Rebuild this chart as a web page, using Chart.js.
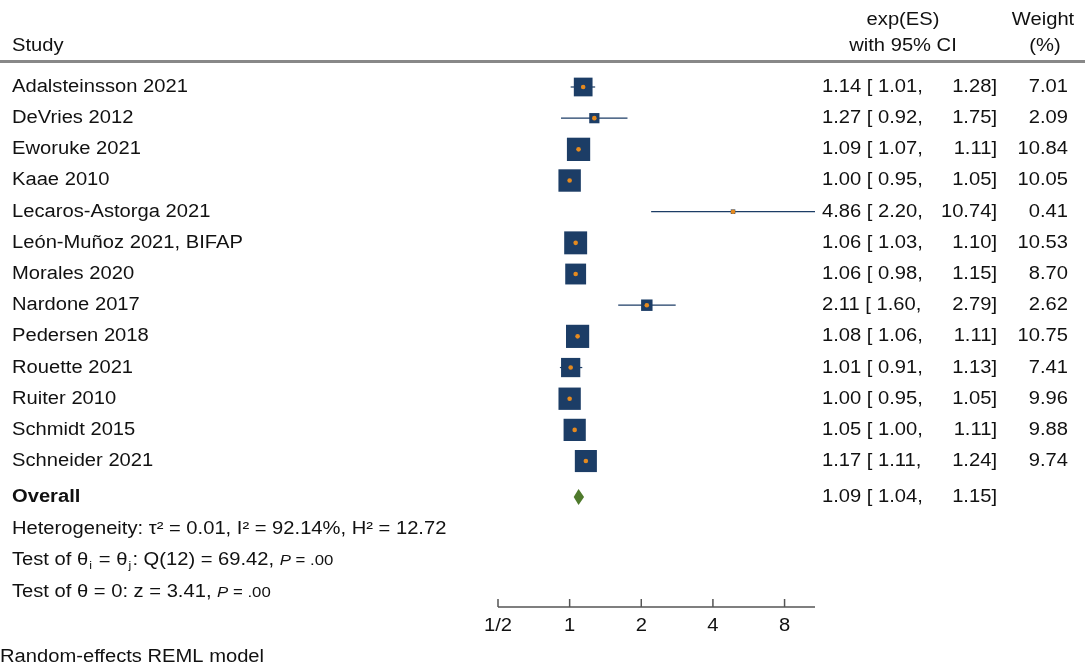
<!DOCTYPE html>
<html><head><meta charset="utf-8">
<script src="https://cdn.jsdelivr.net/npm/chart.js@4"></script>
<style>html,body{margin:0;padding:0;background:#fff}#c{display:block}</style>
</head><body>
<canvas id="c" width="1085" height="667" style="width:1085px;height:667px"></canvas>
<script>
const studies=["Adalsteinsson 2021","DeVries 2012","Eworuke 2021","Kaae 2010","Lecaros-Astorga 2021","León-Muñoz 2021, BIFAP","Morales 2020","Nardone 2017","Pedersen 2018","Rouette 2021","Ruiter 2010","Schmidt 2015","Schneider 2021"];
const es=[1.14,1.27,1.09,1.00,4.86,1.06,1.06,2.11,1.08,1.01,1.00,1.05,1.17];
const lo=[1.01,0.92,1.07,0.95,2.20,1.03,0.98,1.60,1.06,0.91,0.95,1.00,1.11];
const hi=[1.28,1.75,1.11,1.05,10.74,1.10,1.15,2.79,1.11,1.13,1.05,1.11,1.24];
const weight=[7.01,2.09,10.84,10.05,0.41,10.53,8.70,2.62,10.75,7.41,9.96,9.88,9.74];
const overall={es:1.09,lo:1.04,hi:1.15};
const xTicks=[0.5,1,2,4,8];
const xTickLabels=["1/2","1","2","4","8"];
const OVERALL_ROW=13.15;
const NAVY="#1c3d66", ORANGE="#e58a1f", GREEN="#4f7a2c";
const F="'Liberation Sans', Arial, sans-serif";
const SX=1.12;
const BASE="18px "+F;

function txt(ctx,s,x,y,align,font){
  ctx.save();ctx.font=font||BASE;ctx.textBaseline="middle";
  const w=ctx.measureText(s).width*SX;
  let left=align==="right"?x-w:align==="center"?x-w/2:x;
  ctx.translate(left,y);ctx.scale(SX,1);ctx.textAlign="left";ctx.fillText(s,0,0);
  ctx.restore();return w;
}

const textPlugin={id:'forest',afterDraw(chart){
  const ctx=chart.ctx,x=chart.scales.x,y=chart.scales.y;
  ctx.save();
  ctx.fillStyle="#111";
  txt(ctx,"Study",12,46);
  txt(ctx,"exp(ES)",903,20,"center");txt(ctx,"with 95% CI",903,46,"center");
  txt(ctx,"Weight",1043,20,"center");txt(ctx,"(%)",1045,46,"center");
  ctx.fillStyle="#888";ctx.fillRect(0,60,1085,3);
  ctx.fillStyle="#111";
  studies.forEach((s,i)=>{const py=y.getPixelForValue(i);
    txt(ctx,s,12,py);
    txt(ctx,es[i].toFixed(2)+" [ "+lo[i].toFixed(2)+",",822,py);
    txt(ctx,hi[i].toFixed(2)+"]",997,py,"right");
    txt(ctx,weight[i].toFixed(2),1068,py,"right");});
  const oy=y.getPixelForValue(OVERALL_ROW);
  txt(ctx,"Overall",12,oy,"left","bold 18px "+F);
  txt(ctx,overall.es.toFixed(2)+" [ "+overall.lo.toFixed(2)+",",822,oy);
  txt(ctx,overall.hi.toFixed(2)+"]",997,oy,"right");
  ctx.fillStyle=GREEN;ctx.beginPath();
  ctx.moveTo(x.getPixelForValue(overall.lo),oy);ctx.lineTo(x.getPixelForValue(overall.es),oy-8);
  ctx.lineTo(x.getPixelForValue(overall.hi),oy);ctx.lineTo(x.getPixelForValue(overall.es),oy+8);ctx.closePath();ctx.fill();
  ctx.fillStyle="#111";
  txt(ctx,"Heterogeneity: τ² = 0.01, I² = 92.14%, H² = 12.72",12,529);
  let cx=12;
  cx+=txt(ctx,"Test of θ",cx,560);
  txt(ctx,"i",cx+1,566,"left","11px "+F);cx+=5;
  cx+=txt(ctx," = θ",cx,560);
  txt(ctx,"j",cx+1,566,"left","11px "+F);cx+=5;
  cx+=txt(ctx,": Q(12) = 69.42, ",cx,560);
  cx+=txt(ctx,"P",cx,561,"left","italic 15px "+F);
  txt(ctx," = .00",cx,561,"left","15px "+F);
  cx=12;cx+=txt(ctx,"Test of θ = 0: z = 3.41, ",cx,592);
  cx+=txt(ctx,"P",cx,593,"left","italic 15px "+F);
  txt(ctx," = .00",cx,593,"left","15px "+F);
  txt(ctx,"Random-effects REML model",0,657);
  const ay=607;ctx.strokeStyle="#555";ctx.lineWidth=1.5;ctx.beginPath();
  ctx.moveTo(chart.chartArea.left,ay);ctx.lineTo(chart.chartArea.right,ay);ctx.stroke();
  ctx.fillStyle="#111";
  xTicks.forEach((v,i)=>{const px=x.getPixelForValue(v);ctx.beginPath();ctx.moveTo(px,ay);ctx.lineTo(px,ay-8);ctx.stroke();
    txt(ctx,xTickLabels[i],px,626,"center");});
  ctx.restore();
}};
const ciPlugin={id:'ci',beforeDatasetsDraw(chart){
  const ctx=chart.ctx,x=chart.scales.x,y=chart.scales.y;
  ctx.save();ctx.strokeStyle=NAVY;ctx.lineWidth=1.2;
  studies.forEach((s,i)=>{const py=y.getPixelForValue(i);
    ctx.beginPath();ctx.moveTo(x.getPixelForValue(lo[i]),py);ctx.lineTo(x.getPixelForValue(hi[i]),py);ctx.stroke();});
  ctx.restore();
}};

const radii=weight.map(w=>Math.max(3,5*Math.sqrt(w)));
new Chart(document.getElementById('c'),{
  type:'scatter',
  data:{datasets:[
    {order:2,data:es.map((v,i)=>({x:v,y:i})),pointStyle:'rect',backgroundColor:NAVY,borderColor:NAVY,borderWidth:0,
     pointRadius:radii,pointHoverRadius:radii},
    {order:1,data:es.map((v,i)=>({x:v,y:i})),pointStyle:'circle',backgroundColor:ORANGE,borderColor:ORANGE,borderWidth:0,pointRadius:2.3}
  ]},
  options:{responsive:false,animation:false,devicePixelRatio:1,
    layout:{padding:{left:498,right:270,top:60,bottom:61}},
    plugins:{legend:{display:false},tooltip:{enabled:false}},
    scales:{
      x:{type:'logarithmic',min:0.5,max:10.74,display:false},
      y:{type:'linear',min:-0.866,max:16.65,reverse:true,display:false}
    }},
  plugins:[ciPlugin,textPlugin]
});
</script>
</body></html>
